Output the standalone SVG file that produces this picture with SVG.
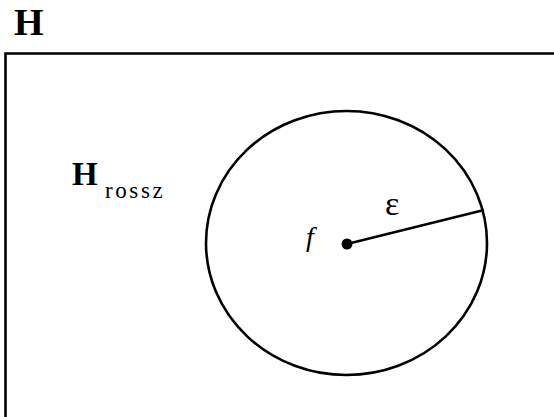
<svg xmlns="http://www.w3.org/2000/svg" width="554" height="417" viewBox="0 0 554 417">
<style>
.t{font-family:"Liberation Serif","Times New Roman",serif;fill:#000}
.b{font-weight:bold}
.ln{stroke:#000;fill:none}
</style>
<rect width="554" height="417" fill="#fff"/>
<g id="space">
<path class="ln" d="M5.5,420 V53.5 H560" stroke-width="2.6"/>
<text class="t b" x="14" y="35" font-size="38">H</text>
</g>
<g id="subset">
<text class="t b" x="72" y="185" font-size="33">H</text>
<text class="t" x="105" y="198" font-size="23" letter-spacing="2.6">rossz</text>
</g>
<g id="ball">
<ellipse class="ln" cx="346.5" cy="243" rx="140.5" ry="132" stroke-width="2.6"/>
</g>
<g id="connectors">
<line class="ln" x1="347" y1="244" x2="484" y2="210" stroke-width="2.4"/>
</g>
<g id="center">
<circle cx="347" cy="244" r="5.5" fill="#000"/>
<text class="t" x="306" y="246" font-size="28" font-style="italic">f</text>
</g>
<g id="radius">
<text class="t" x="385" y="215" font-size="34">ε</text>
</g>
</svg>
